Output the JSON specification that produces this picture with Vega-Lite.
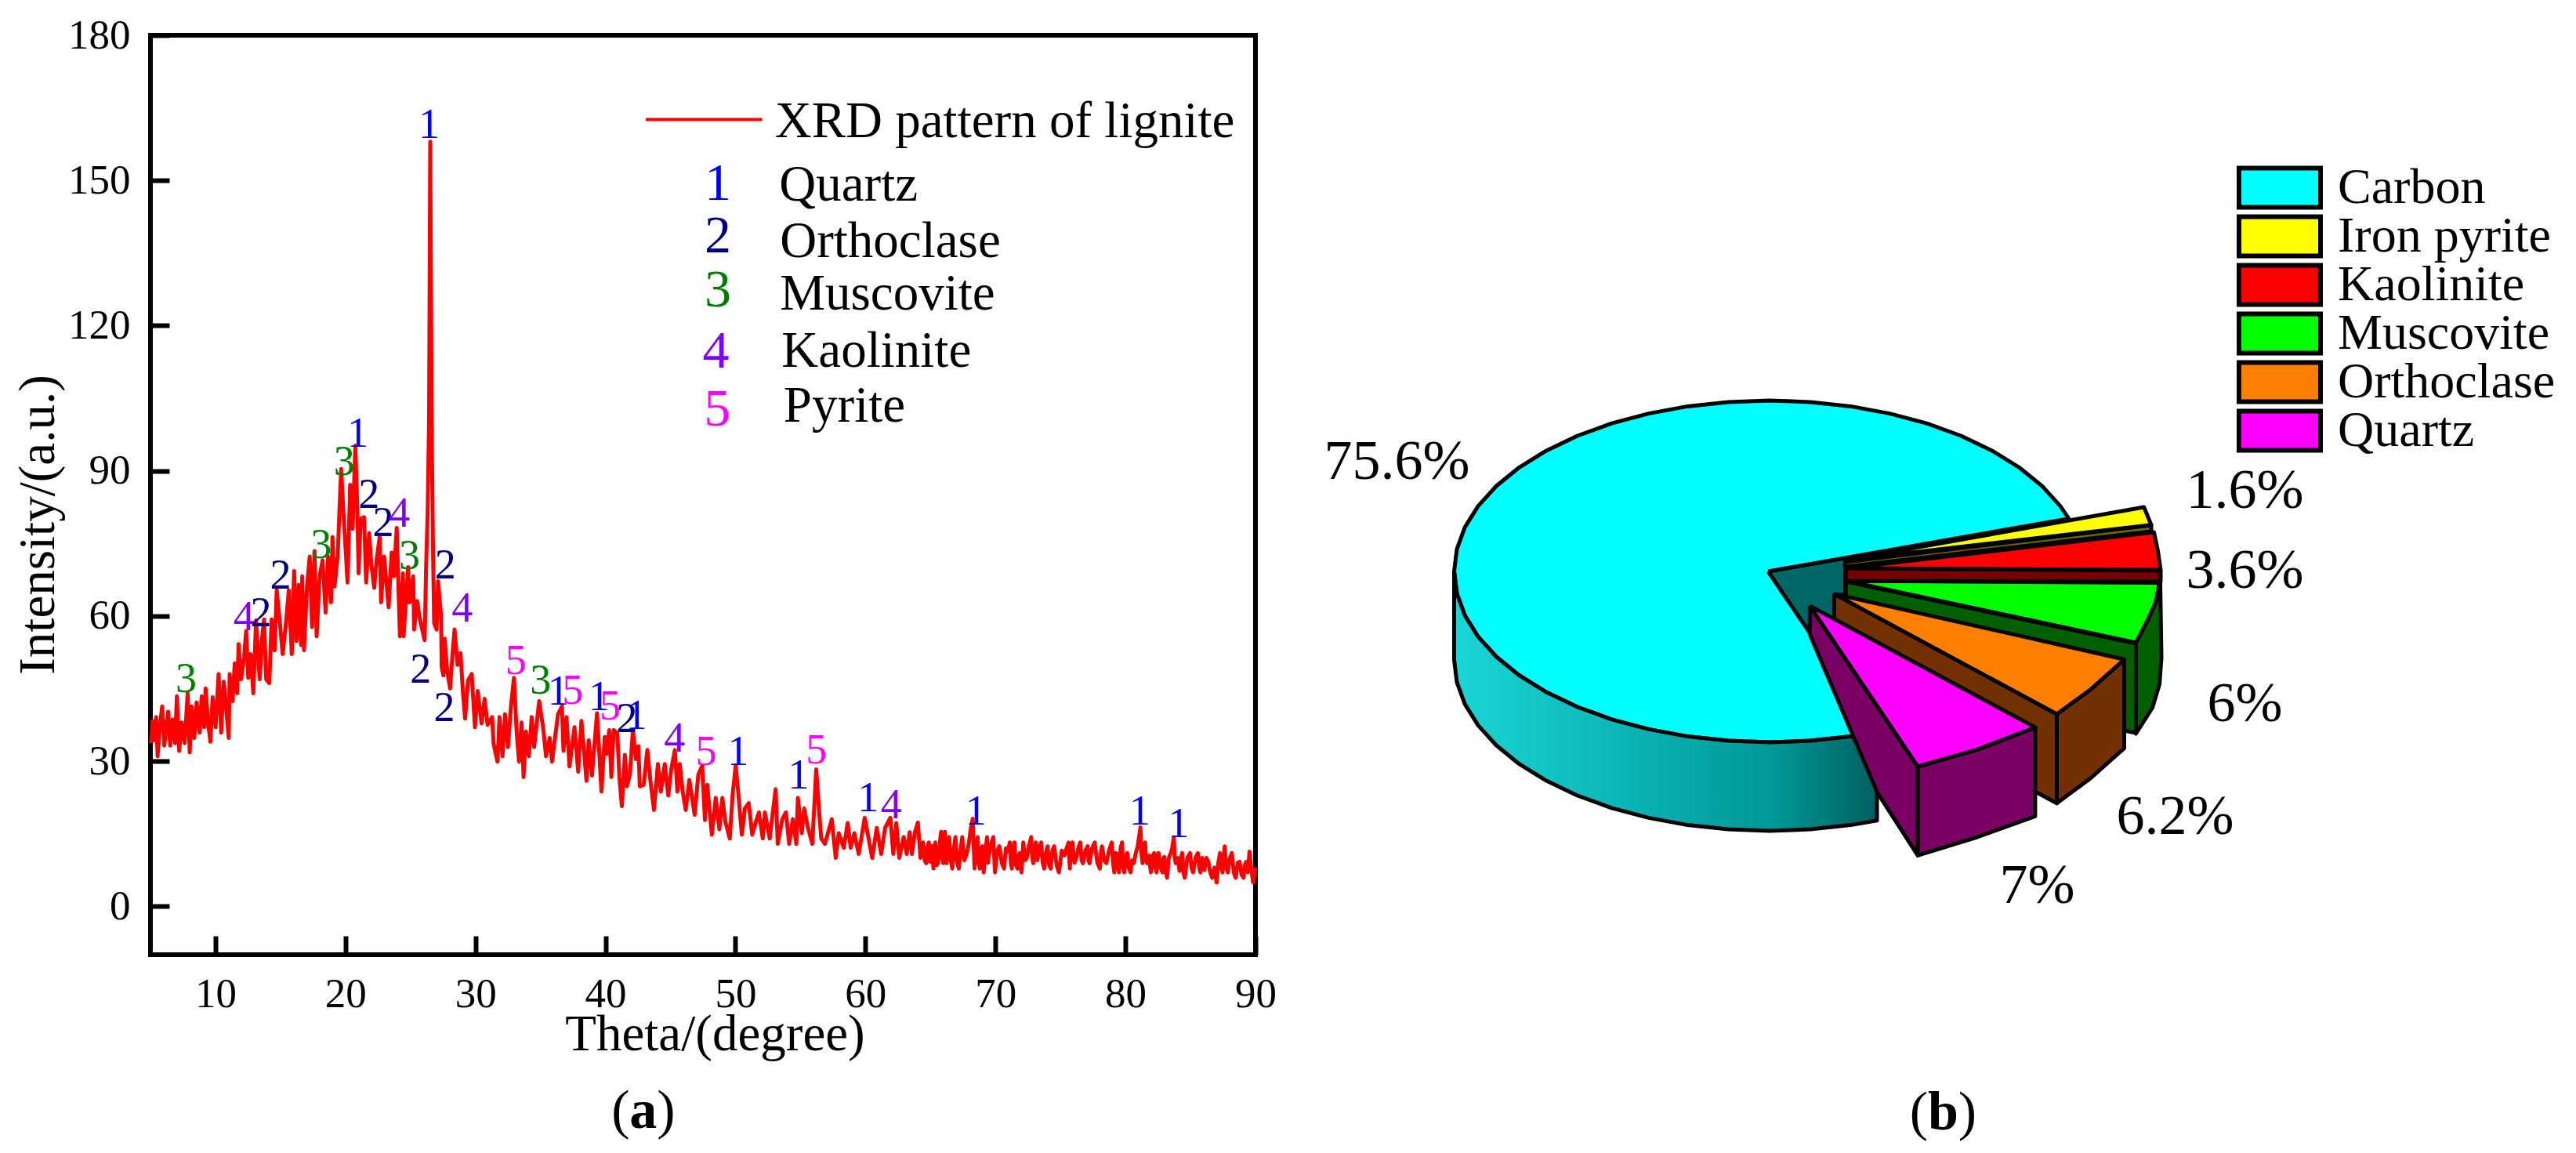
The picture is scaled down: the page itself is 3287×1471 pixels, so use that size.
{"$schema":"https://vega.github.io/schema/vega-lite/v6.json","background":"white","padding":{"left":13,"top":16,"right":0,"bottom":0},"config":{"font":"Liberation Serif","style":{"guide-label":{"font":"Liberation Serif"},"guide-title":{"font":"Liberation Serif"}}},"datasets":{"xrd":[[5.05,33.7],[5.16,38.3],[5.28,34.3],[5.44,39.1],[5.55,31.0],[5.72,37.0],[5.90,41.3],[6.06,33.2],[6.36,40.2],[6.52,33.2],[6.71,38.6],[6.89,33.7],[7.03,43.4],[7.21,32.1],[7.40,38.0],[7.63,33.7],[7.86,44.0],[8.02,31.8],[8.16,41.3],[8.37,34.8],[8.55,42.1],[8.78,35.9],[8.94,43.4],[9.13,37.0],[9.24,45.0],[9.43,38.0],[9.61,34.0],[9.78,43.2],[10.01,37.0],[10.24,48.0],[10.44,35.9],[10.63,46.4],[10.81,41.3],[11.02,34.8],[11.09,48.0],[11.32,42.4],[11.48,50.2],[11.67,44.0],[11.78,54.2],[11.97,46.9],[12.20,51.5],[12.36,56.9],[12.52,47.2],[12.71,52.1],[12.91,44.0],[13.12,59.1],[13.40,46.9],[13.58,55.3],[13.74,59.3],[13.90,46.9],[14.14,46.1],[14.32,59.3],[14.55,52.9],[14.71,65.3],[14.90,60.2],[15.17,52.1],[15.40,58.0],[15.64,65.3],[15.87,52.1],[16.05,69.3],[16.23,54.8],[16.40,66.4],[16.58,54.0],[16.67,68.2],[16.81,52.9],[17.04,66.1],[17.25,72.3],[17.43,57.7],[17.62,73.4],[17.78,55.8],[18.01,68.2],[18.24,71.5],[18.47,60.7],[18.66,72.3],[18.89,62.8],[19.00,76.3],[19.16,66.1],[19.40,72.3],[19.56,83.3],[19.67,90.4],[19.86,80.6],[20.16,66.9],[20.36,87.1],[20.55,78.0],[20.76,95.2],[20.92,81.7],[21.01,68.8],[21.17,80.1],[21.43,80.4],[21.59,66.9],[21.82,77.1],[21.98,70.9],[22.21,65.8],[22.39,71.5],[22.63,76.3],[22.74,62.8],[22.97,72.3],[23.32,61.8],[23.55,73.1],[23.73,68.2],[23.94,78.2],[24.19,55.8],[24.42,68.8],[24.47,55.8],[24.82,70.1],[24.93,62.8],[25.21,68.2],[25.28,57.2],[25.51,63.1],[25.74,59.1],[26.09,55.0],[26.20,69.9],[26.32,81.2],[26.43,100.6],[26.52,158],[26.62,106],[26.66,92.0],[26.73,74.2],[26.82,58.5],[27.01,57.2],[27.12,67.2],[27.35,60.2],[27.40,49.4],[27.54,47.7],[27.63,55.3],[27.82,48.8],[28.05,45.0],[28.23,52.1],[28.39,57.2],[28.62,49.9],[28.85,52.3],[29.04,44.0],[29.20,38.8],[29.43,46.7],[29.71,48.0],[29.96,37.0],[30.17,44.5],[30.47,37.8],[30.70,42.9],[30.93,37.5],[31.28,39.1],[31.39,33.7],[31.69,29.9],[31.85,39.1],[32.08,31.0],[32.27,39.7],[32.50,32.9],[32.73,41.3],[32.96,47.2],[33.17,35.9],[33.35,29.9],[33.54,38.0],[33.70,26.7],[33.88,36.1],[34.11,31.0],[34.32,39.1],[34.51,32.9],[34.90,42.4],[35.20,37.0],[35.43,31.0],[35.71,34.8],[35.89,29.9],[36.12,34.8],[36.35,39.7],[36.65,41.3],[36.77,32.1],[37.00,39.1],[37.23,28.9],[37.62,37.0],[37.90,27.8],[38.15,38.3],[38.54,25.9],[38.71,34.3],[38.96,27.0],[39.35,39.9],[39.69,23.7],[39.94,35.0],[40.10,31.5],[40.29,36.4],[40.45,26.7],[40.63,36.4],[40.91,35.8],[41.07,26.7],[41.26,20.7],[41.49,31.3],[41.65,24.8],[41.88,27.2],[42.11,36.4],[42.34,30.4],[42.53,33.1],[42.64,24.8],[42.94,25.1],[43.22,32.3],[43.45,26.1],[43.73,19.9],[44.03,29.4],[44.26,23.7],[44.56,29.4],[44.83,22.9],[45.06,28.3],[45.34,32.3],[45.53,23.7],[45.71,29.4],[45.94,23.7],[46.17,19.9],[46.45,26.1],[46.86,18.9],[47.14,27.2],[47.44,29.1],[47.65,17.8],[47.83,25.1],[48.18,14.8],[48.48,22.4],[48.76,15.9],[48.99,22.4],[49.22,17.5],[49.56,14.0],[49.79,23.4],[50.02,29.1],[50.25,22.4],[50.49,14.8],[50.72,20.2],[51.02,21.3],[51.29,14.8],[51.52,17.0],[51.80,19.4],[52.10,14.0],[52.26,19.4],[52.63,14.0],[53.09,24.2],[53.25,12.9],[53.60,18.0],[53.88,19.4],[54.13,12.9],[54.41,18.0],[54.68,12.9],[54.80,22.4],[55.10,15.1],[55.28,20.2],[55.56,16.4],[55.91,12.9],[56.21,28.3],[56.48,18.0],[56.60,14.0],[56.88,12.9],[57.41,18.0],[57.71,10.0],[57.94,15.1],[58.33,12.1],[58.63,17.2],[58.86,12.1],[59.14,15.1],[59.48,10.8],[59.94,18.3],[60.52,10.0],[60.87,16.2],[61.21,10.8],[61.51,16.2],[61.91,18.3],[62.14,10.8],[62.37,17.2],[62.60,10.0],[62.94,14.3],[63.17,10.8],[63.40,15.3],[63.57,10.8],[63.81,15.4],[64.03,17.3],[64.23,10.0],[64.33,12.1],[64.43,13.2],[64.55,9.5],[64.67,8.9],[64.77,12.4],[64.87,13.2],[64.98,9.2],[65.08,12.5],[65.23,7.8],[65.30,11.5],[65.37,13.2],[65.47,8.5],[65.58,8.9],[65.70,12.8],[65.82,15.4],[65.90,10],[65.98,8.9],[66.05,13],[66.12,15.4],[66.18,10],[66.24,8.9],[66.34,12],[66.44,14.3],[66.56,9.5],[66.68,7.8],[66.80,12],[66.92,14.3],[67.05,9],[67.18,7.8],[67.31,11.5],[67.44,14.3],[67.6,9.5],[67.79,10.8],[67.95,13],[68.09,15.9],[68.25,18.1],[68.39,7.8],[68.51,12],[68.63,14.3],[68.71,9],[68.79,7.8],[68.9,12],[68.99,12.4],[69.09,7.0],[69.22,11],[69.35,14.3],[69.42,9],[69.49,10.5],[69.66,13],[69.83,14.3],[69.96,7.0],[70.13,11.5],[70.30,12.4],[70.48,9],[70.66,7.8],[70.8,12],[70.94,11.3],[71.10,13.2],[71.18,9],[71.26,7.8],[71.36,12],[71.46,13.2],[71.58,8.5],[71.70,7.8],[71.85,11],[72.00,7.0],[72.14,13.2],[72.28,9.5],[72.41,10.0],[72.58,12.5],[72.75,14.3],[72.83,10],[72.91,8.9],[73.01,12.5],[73.11,13.2],[73.21,9.5],[73.31,10.8],[73.41,12.5],[73.51,13.2],[73.63,9],[73.75,7.8],[73.88,11],[74.01,12.4],[74.13,8.5],[74.25,7.8],[74.38,11.5],[74.52,12.4],[74.7,8.5],[74.88,7.0],[75.1,11.5],[75.32,10.5],[75.47,12],[75.62,13.2],[75.72,7.8],[75.82,12],[75.92,13.2],[76.07,9],[76.22,10],[76.37,12],[76.52,13.2],[76.62,9.5],[76.73,8.9],[76.91,11.5],[77.09,12.4],[77.16,9.5],[77.23,8.9],[77.43,12],[77.63,13.2],[77.83,9],[78.03,7.8],[78.11,11],[78.19,12.4],[78.36,9.5],[78.53,8.9],[78.73,11.5],[78.94,13.2],[79.04,9],[79.14,7],[79.24,11],[79.34,10.8],[79.42,8],[79.50,7],[79.62,12],[79.74,13.2],[79.82,8],[79.90,7],[80.02,10],[80.14,11],[80.26,8],[80.38,7],[80.51,9.5],[80.64,8.9],[80.79,11],[80.94,12.4],[81.15,16.3],[81.23,11],[81.31,8.9],[81.41,12.5],[81.51,13.2],[81.58,9.5],[81.65,8.9],[81.8,10.5],[81.95,7],[82.08,10.5],[82.21,11],[82.3,8],[82.39,7],[82.47,10],[82.55,11],[82.7,8],[82.85,7],[82.92,10],[82.99,10.2],[83.1,7],[83.2,5.9],[83.33,10],[83.46,10.8],[83.59,12],[83.72,14.3],[83.79,10],[83.86,8.9],[84.01,10],[84.16,7.3],[84.26,10],[84.36,11],[84.46,7],[84.56,5.9],[84.76,10],[84.96,11],[85.08,8],[85.20,7],[85.38,10],[85.57,11],[85.67,8],[85.77,7],[85.9,10],[86.07,7.5],[86.22,10],[86.37,9.2],[86.52,7],[86.67,5.9],[86.84,8],[87.01,4.9],[87.14,9],[87.27,11],[87.37,8],[87.47,7],[87.55,10],[87.63,12.4],[87.75,8],[87.87,7],[88.03,10],[88.18,11],[88.33,7],[88.48,5.9],[88.63,9],[88.78,9.2],[88.93,6.5],[89.08,5.9],[89.18,8.5],[89.28,9.2],[89.41,7],[89.54,11.3],[89.68,7.5],[89.82,4.9],[90,8]],"peaks":[{"n":"1","t":26.43,"v":161.4},{"n":"1","t":20.95,"v":97.6},{"n":"3","t":19.9,"v":91.7},{"n":"2","t":21.8,"v":84.9},{"n":"2","t":22.9,"v":79.1},{"n":"4","t":24.15,"v":81.1},{"n":"3","t":24.93,"v":72.3},{"n":"3","t":18.13,"v":74.6},{"n":"2","t":15,"v":68.3},{"n":"4","t":12.19,"v":59.7},{"n":"2","t":13.5,"v":60.4},{"n":"3","t":7.74,"v":46.8},{"n":"2","t":27.68,"v":70.3},{"n":"4","t":28.98,"v":61.4},{"n":"2","t":25.78,"v":48.8},{"n":"2","t":27.61,"v":40.9},{"n":"5","t":33.1,"v":50.6},{"n":"3","t":35,"v":46.5},{"n":"1","t":36.37,"v":44.2},{"n":"5","t":37.48,"v":44.5},{"n":"1","t":39.5,"v":43.1},{"n":"5","t":40.35,"v":41.2},{"n":"2","t":41.66,"v":38.6},{"n":"1","t":42.38,"v":39.2},{"n":"4","t":45.32,"v":34.6},{"n":"5","t":47.74,"v":31.8},{"n":"1","t":50.2,"v":31.8},{"n":"1","t":54.86,"v":27},{"n":"5","t":56.23,"v":32.1},{"n":"1","t":60.2,"v":22.2},{"n":"4","t":61.98,"v":20.7},{"n":"1","t":68.5,"v":19.5},{"n":"1","t":81.1,"v":19.5},{"n":"1","t":84.07,"v":16.9}],"keynum":[{"n":"1","t":48.65,"v":149.3},{"n":"2","t":48.65,"v":138.3},{"n":"3","t":48.65,"v":127.2},{"n":"4","t":48.5,"v":114.5},{"n":"5","t":48.6,"v":102.6}],"keytxt":[{"s":"XRD pattern of lignite","t":53.03,"v":162.2},{"s":"Quartz","t":53.36,"v":149},{"s":"Orthoclase","t":53.42,"v":137.4},{"s":"Muscovite","t":53.42,"v":126.6},{"s":"Kaolinite","t":53.55,"v":114.8},{"s":"Pyrite","t":53.7,"v":103.4}],"pie":[{"part":"Teal","x":2255.5,"y":726},{"part":"Teal","x":2354,"y":709},{"part":"Teal","x":2354,"y":756},{"part":"Teal","x":2340,"y":756},{"part":"Teal","x":2340,"y":790},{"part":"Teal","x":2309,"y":790},{"part":"Teal","x":2307,"y":805},{"part":"Teal","x":2255.5,"y":726},{"part":"Carbon","x":2255.5,"y":726},{"part":"Carbon","x":2639.3,"y":658.6},{"part":"Carbon","x":2628.4,"y":642.6},{"part":"Carbon","x":2605.1,"y":617},{"part":"Carbon","x":2575.9,"y":593.3},{"part":"Carbon","x":2541.3,"y":571.9},{"part":"Carbon","x":2501.7,"y":553},{"part":"Carbon","x":2458,"y":537.2},{"part":"Carbon","x":2410.8,"y":524.6},{"part":"Carbon","x":2361,"y":515.4},{"part":"Carbon","x":2309.5,"y":509.9},{"part":"Carbon","x":2257,"y":508},{"part":"Carbon","x":2204.5,"y":509.9},{"part":"Carbon","x":2153,"y":515.4},{"part":"Carbon","x":2103.2,"y":524.6},{"part":"Carbon","x":2056,"y":537.2},{"part":"Carbon","x":2012.3,"y":553},{"part":"Carbon","x":1972.7,"y":571.9},{"part":"Carbon","x":1938.1,"y":593.3},{"part":"Carbon","x":1908.9,"y":617},{"part":"Carbon","x":1885.6,"y":642.6},{"part":"Carbon","x":1868.7,"y":669.6},{"part":"Carbon","x":1858.5,"y":697.6},{"part":"Carbon","x":1855,"y":726},{"part":"Carbon","x":1858.5,"y":754.4},{"part":"Carbon","x":1868.7,"y":782.4},{"part":"Carbon","x":1885.6,"y":809.4},{"part":"Carbon","x":1908.9,"y":835},{"part":"Carbon","x":1938.1,"y":858.7},{"part":"Carbon","x":1972.7,"y":880.1},{"part":"Carbon","x":2012.3,"y":899},{"part":"Carbon","x":2056,"y":914.8},{"part":"Carbon","x":2103.2,"y":927.4},{"part":"Carbon","x":2153,"y":936.6},{"part":"Carbon","x":2204.5,"y":942.1},{"part":"Carbon","x":2257,"y":944},{"part":"Carbon","x":2309.5,"y":942.1},{"part":"Carbon","x":2361,"y":936.6},{"part":"Carbon","x":2394.5,"y":930.9},{"part":"Carbon","x":2255.5,"y":726}],"side":[{"x":1855,"y":726},{"x":1858.5,"y":754.4},{"x":1868.7,"y":782.4},{"x":1885.6,"y":809.4},{"x":1908.9,"y":835},{"x":1938.1,"y":858.7},{"x":1972.7,"y":880.1},{"x":2012.3,"y":899},{"x":2056,"y":914.8},{"x":2103.2,"y":927.4},{"x":2153,"y":936.6},{"x":2204.5,"y":942.1},{"x":2257,"y":944},{"x":2309.5,"y":942.1},{"x":2361,"y":936.6},{"x":2394.5,"y":930.9},{"x":2394.5,"y":1043.9},{"x":2361,"y":1049.6},{"x":2309.5,"y":1055.1},{"x":2257,"y":1057},{"x":2204.5,"y":1055.1},{"x":2153,"y":1049.6},{"x":2103.2,"y":1040.4},{"x":2056,"y":1027.8},{"x":2012.3,"y":1012},{"x":1972.7,"y":993.1},{"x":1938.1,"y":971.7},{"x":1908.9,"y":948},{"x":1885.6,"y":922.4},{"x":1868.7,"y":895.4},{"x":1858.5,"y":867.4},{"x":1855,"y":839},{"x":1855,"y":726}],"slices":[{"part":"DarkGreenOuter","x":2725,"y":817},{"part":"DarkGreenOuter","x":2739,"y":790},{"part":"DarkGreenOuter","x":2750,"y":765},{"part":"DarkGreenOuter","x":2756,"y":740},{"part":"DarkGreenOuter","x":2757.5,"y":836},{"part":"DarkGreenOuter","x":2755,"y":870},{"part":"DarkGreenOuter","x":2746,"y":900},{"part":"DarkGreenOuter","x":2725,"y":933},{"part":"DarkGreenOuter","x":2725,"y":817},{"part":"DarkGreen","x":2355,"y":739},{"part":"DarkGreen","x":2725,"y":818},{"part":"DarkGreen","x":2725,"y":932},{"part":"DarkGreen","x":2355,"y":860},{"part":"DarkGreen","x":2355,"y":739},{"part":"Muscovite","x":2355,"y":738},{"part":"Muscovite","x":2755,"y":740.5},{"part":"Muscovite","x":2750,"y":766},{"part":"Muscovite","x":2739,"y":790},{"part":"Muscovite","x":2725,"y":817},{"part":"Muscovite","x":2355,"y":738},{"part":"DarkRed","x":2355,"y":722},{"part":"DarkRed","x":2756.5,"y":725},{"part":"DarkRed","x":2756.5,"y":739},{"part":"DarkRed","x":2355,"y":738},{"part":"DarkRed","x":2355,"y":722},{"part":"Kaolinite","x":2355,"y":722},{"part":"Kaolinite","x":2748,"y":676},{"part":"Kaolinite","x":2753,"y":700},{"part":"Kaolinite","x":2756.5,"y":724},{"part":"Kaolinite","x":2355,"y":722},{"part":"Olive","x":2353.6,"y":714},{"part":"Olive","x":2744.5,"y":667},{"part":"Olive","x":2744.5,"y":675},{"part":"Olive","x":2353.6,"y":720},{"part":"Olive","x":2353.6,"y":714},{"part":"Iron pyrite","x":2353.6,"y":711.7},{"part":"Iron pyrite","x":2735.2,"y":644},{"part":"Iron pyrite","x":2744.5,"y":666.7},{"part":"Iron pyrite","x":2353.6,"y":711.7},{"part":"Brown","x":2339.9,"y":754.7},{"part":"Brown","x":2624,"y":908},{"part":"Brown","x":2624,"y":1021.7},{"part":"Brown","x":2339.9,"y":870},{"part":"Brown","x":2339.9,"y":754.7},{"part":"BrownOuter","x":2624,"y":908},{"part":"BrownOuter","x":2667,"y":876.7},{"part":"BrownOuter","x":2710,"y":838.3},{"part":"BrownOuter","x":2710,"y":951.7},{"part":"BrownOuter","x":2667,"y":990},{"part":"BrownOuter","x":2624,"y":1021.7},{"part":"BrownOuter","x":2624,"y":908},{"part":"Orthoclase","x":2339.9,"y":754.7},{"part":"Orthoclase","x":2710,"y":838.3},{"part":"Orthoclase","x":2667,"y":876.7},{"part":"Orthoclase","x":2624,"y":908},{"part":"Orthoclase","x":2339.9,"y":754.7},{"part":"Purple","x":2308.9,"y":770},{"part":"Purple","x":2446.6,"y":975},{"part":"Purple","x":2446.6,"y":1088.3},{"part":"Purple","x":2395,"y":1008.3},{"part":"Purple","x":2308.9,"y":806.7},{"part":"Purple","x":2308.9,"y":770},{"part":"PurpleOuter","x":2446.6,"y":975},{"part":"PurpleOuter","x":2522.4,"y":953.3},{"part":"PurpleOuter","x":2596.4,"y":925},{"part":"PurpleOuter","x":2596.4,"y":1038.3},{"part":"PurpleOuter","x":2522.4,"y":1065},{"part":"PurpleOuter","x":2446.6,"y":1088.3},{"part":"PurpleOuter","x":2446.6,"y":975},{"part":"Quartz","x":2308.9,"y":770},{"part":"Quartz","x":2596.4,"y":925},{"part":"Quartz","x":2522.4,"y":953.3},{"part":"Quartz","x":2446.6,"y":975},{"part":"Quartz","x":2308.9,"y":770}],"pct":[{"s":"75.6%","x":1782,"y":586},{"s":"1.6%","x":2864,"y":623},{"s":"3.6%","x":2864,"y":725},{"s":"6%","x":2864,"y":895},{"s":"6.2%","x":2775,"y":1039},{"s":"7%","x":2599,"y":1127}]},"hconcat":[{"width":1410,"height":1173,"view":{"stroke":"#000","strokeWidth":6},"layer":[{"data":{"name":"xrd"},"transform":[{"calculate":"datum[0]","as":"theta"},{"calculate":"datum[1]","as":"intensity"},{"window":[{"op":"row_number","as":"r"}]}],"mark":{"type":"line","stroke":"#ff0000","strokeWidth":5,"strokeJoin":"round"},"encoding":{"x":{"field":"theta","type":"quantitative","scale":{"domain":[5,90],"nice":false,"zero":false},"axis":{"values":[10,20,30,40,50,60,70,80,90],"grid":false,"domain":false,"tickSize":-24,"tickWidth":6,"tickColor":"#000","labelFontSize":53,"labelColor":"#000","labelPadding":48,"labelFlush":false,"labelFont":"Liberation Serif","title":"Theta/(degree)","titleFontSize":65,"titleFontWeight":"normal","titleFont":"Liberation Serif","titleColor":"#000","titleX":720,"titleY":70}},"y":{"field":"intensity","type":"quantitative","scale":{"domain":[-10,180],"nice":false,"zero":false},"axis":{"values":[0,30,60,90,120,150,180],"grid":false,"domain":false,"tickSize":-24,"tickWidth":6,"tickColor":"#000","labelFontSize":53,"labelColor":"#000","labelPadding":50,"labelFont":"Liberation Serif","title":"Intensity/(a.u.)","titleFontSize":65,"titleFontWeight":"normal","titleFont":"Liberation Serif","titleColor":"#000","titleX":-110,"titleY":624}},"order":{"field":"r","type":"quantitative"}}},{"data":{"values":[{"a":43.1,"b":52.05,"v":162.6}]},"mark":{"type":"rule","stroke":"#ff0000","strokeWidth":4},"encoding":{"x":{"field":"a","type":"quantitative"},"x2":{"field":"b"},"y":{"field":"v","type":"quantitative"}}},{"data":{"name":"peaks"},"mark":{"type":"text","fontSize":54,"font":"Liberation Serif","align":"center","baseline":"middle"},"encoding":{"x":{"field":"t","type":"quantitative"},"y":{"field":"v","type":"quantitative"},"text":{"field":"n"},"color":{"field":"n","type":"nominal","legend":null,"scale":{"domain":["1","2","3","4","5"],"range":["#0000ff","#000080","#008000","#8000ff","#ff00ff"]}}}},{"data":{"name":"keynum"},"mark":{"type":"text","fontSize":68,"font":"Liberation Serif","align":"center","baseline":"middle"},"encoding":{"x":{"field":"t","type":"quantitative"},"y":{"field":"v","type":"quantitative"},"text":{"field":"n"},"color":{"field":"n","type":"nominal","legend":null,"scale":{"domain":["1","2","3","4","5"],"range":["#0000ff","#000080","#008000","#8000ff","#ff00ff"]}}}},{"data":{"name":"keytxt"},"mark":{"type":"text","fontSize":65,"font":"Liberation Serif","align":"left","baseline":"middle","color":"#000"},"encoding":{"x":{"field":"t","type":"quantitative"},"y":{"field":"v","type":"quantitative"},"text":{"field":"s"}}},{"data":{"values":[{"s":"(","t":41.17,"v":-42.4},{"s":")","t":44.66,"v":-42.4}]},"mark":{"type":"text","fontSize":70,"font":"Liberation Serif","align":"center","baseline":"middle","color":"#000"},"encoding":{"x":{"field":"t","type":"quantitative"},"y":{"field":"v","type":"quantitative"},"text":{"field":"s"}}},{"data":{"values":[{"s":"a","t":42.9,"v":-42.4}]},"mark":{"type":"text","fontSize":70,"font":"Liberation Serif","fontWeight":"bold","align":"center","baseline":"middle","color":"#000"},"encoding":{"x":{"field":"t","type":"quantitative"},"y":{"field":"v","type":"quantitative"},"text":{"field":"s"}}}]},{"width":1587,"height":1429,"view":{"stroke":null},"layer":[{"data":{"name":"pie"},"transform":[{"window":[{"op":"row_number","as":"r"}]}],"mark":{"type":"line","stroke":"#000","strokeWidth":5,"strokeJoin":"round"},"encoding":{"x":{"field":"x","type":"quantitative","axis":null,"scale":{"domain":[1700,3287],"nice":false,"zero":false}},"y":{"field":"y","type":"quantitative","axis":null,"scale":{"domain":[1471,42],"nice":false,"zero":false}},"order":{"field":"r","type":"quantitative"},"fill":{"field":"part","type":"nominal","scale":{"domain":["Carbon","Iron pyrite","Kaolinite","Muscovite","Orthoclase","Quartz","Teal","Olive","DarkRed","DarkGreen","DarkGreenOuter","Brown","BrownOuter","Purple","PurpleOuter"],"range":["#00ffff","#ffff00","#ff0000","#00ff00","#ff8000","#ff00ff","#006666","#6b6b00","#770000","#006000","#006000","#733000","#733000","#7a0066","#7a0066"]},"legend":{"values":["Carbon","Iron pyrite","Kaolinite","Muscovite","Orthoclase","Quartz"],"orient":"none","legendX":2662,"legendY":165,"title":null,"symbolType":"M-1,-0.48H1V0.48H-1Z","symbolSize":10816,"symbolStrokeColor":"#000","symbolStrokeWidth":6,"labelFontSize":64,"labelFont":"Liberation Serif","labelColor":"#000","labelLimit":500,"clipHeight":59,"rowPadding":-9,"labelOffset":19}}}},{"data":{"name":"side"},"transform":[{"window":[{"op":"row_number","as":"r"}]}],"mark":{"type":"line","stroke":"#000","strokeWidth":5,"strokeJoin":"round","fill":{"gradient":"linear","x1":0,"y1":0,"x2":1,"y2":0,"stops":[{"offset":0,"color":"#1ad6d6"},{"offset":0.75,"color":"#009898"},{"offset":1,"color":"#006060"}]}},"encoding":{"x":{"field":"x","type":"quantitative"},"y":{"field":"y","type":"quantitative"},"order":{"field":"r","type":"quantitative"}}},{"data":{"name":"slices"},"transform":[{"window":[{"op":"row_number","as":"r"}]}],"mark":{"type":"line","stroke":"#000","strokeWidth":5,"strokeJoin":"round"},"encoding":{"x":{"field":"x","type":"quantitative"},"y":{"field":"y","type":"quantitative"},"order":{"field":"r","type":"quantitative"},"fill":{"field":"part","type":"nominal","scale":{"domain":["Carbon","Iron pyrite","Kaolinite","Muscovite","Orthoclase","Quartz","Teal","Olive","DarkRed","DarkGreen","DarkGreenOuter","Brown","BrownOuter","Purple","PurpleOuter"],"range":["#00ffff","#ffff00","#ff0000","#00ff00","#ff8000","#ff00ff","#006666","#6b6b00","#770000","#006000","#006000","#733000","#733000","#7a0066","#7a0066"]},"legend":{"values":["Carbon","Iron pyrite","Kaolinite","Muscovite","Orthoclase","Quartz"],"orient":"none","legendX":2662,"legendY":165,"title":null,"symbolType":"M-1,-0.48H1V0.48H-1Z","symbolSize":10816,"symbolStrokeColor":"#000","symbolStrokeWidth":6,"labelFontSize":64,"labelFont":"Liberation Serif","labelColor":"#000","labelLimit":500,"clipHeight":59,"rowPadding":-9,"labelOffset":19}}}},{"data":{"name":"pct"},"mark":{"type":"text","fontSize":72,"font":"Liberation Serif","align":"center","baseline":"middle","color":"#000"},"encoding":{"x":{"field":"x","type":"quantitative"},"y":{"field":"y","type":"quantitative"},"text":{"field":"s"}}},{"data":{"values":[{"s":"(","x":2448,"y":1417},{"s":")","x":2510,"y":1417}]},"mark":{"type":"text","fontSize":70,"font":"Liberation Serif","align":"center","baseline":"middle","color":"#000"},"encoding":{"x":{"field":"x","type":"quantitative"},"y":{"field":"y","type":"quantitative"},"text":{"field":"s"}}},{"data":{"values":[{"s":"b","x":2479,"y":1417}]},"mark":{"type":"text","fontSize":70,"font":"Liberation Serif","fontWeight":"bold","align":"center","baseline":"middle","color":"#000"},"encoding":{"x":{"field":"x","type":"quantitative"},"y":{"field":"y","type":"quantitative"},"text":{"field":"s"}}}]}],"spacing":57.5}
